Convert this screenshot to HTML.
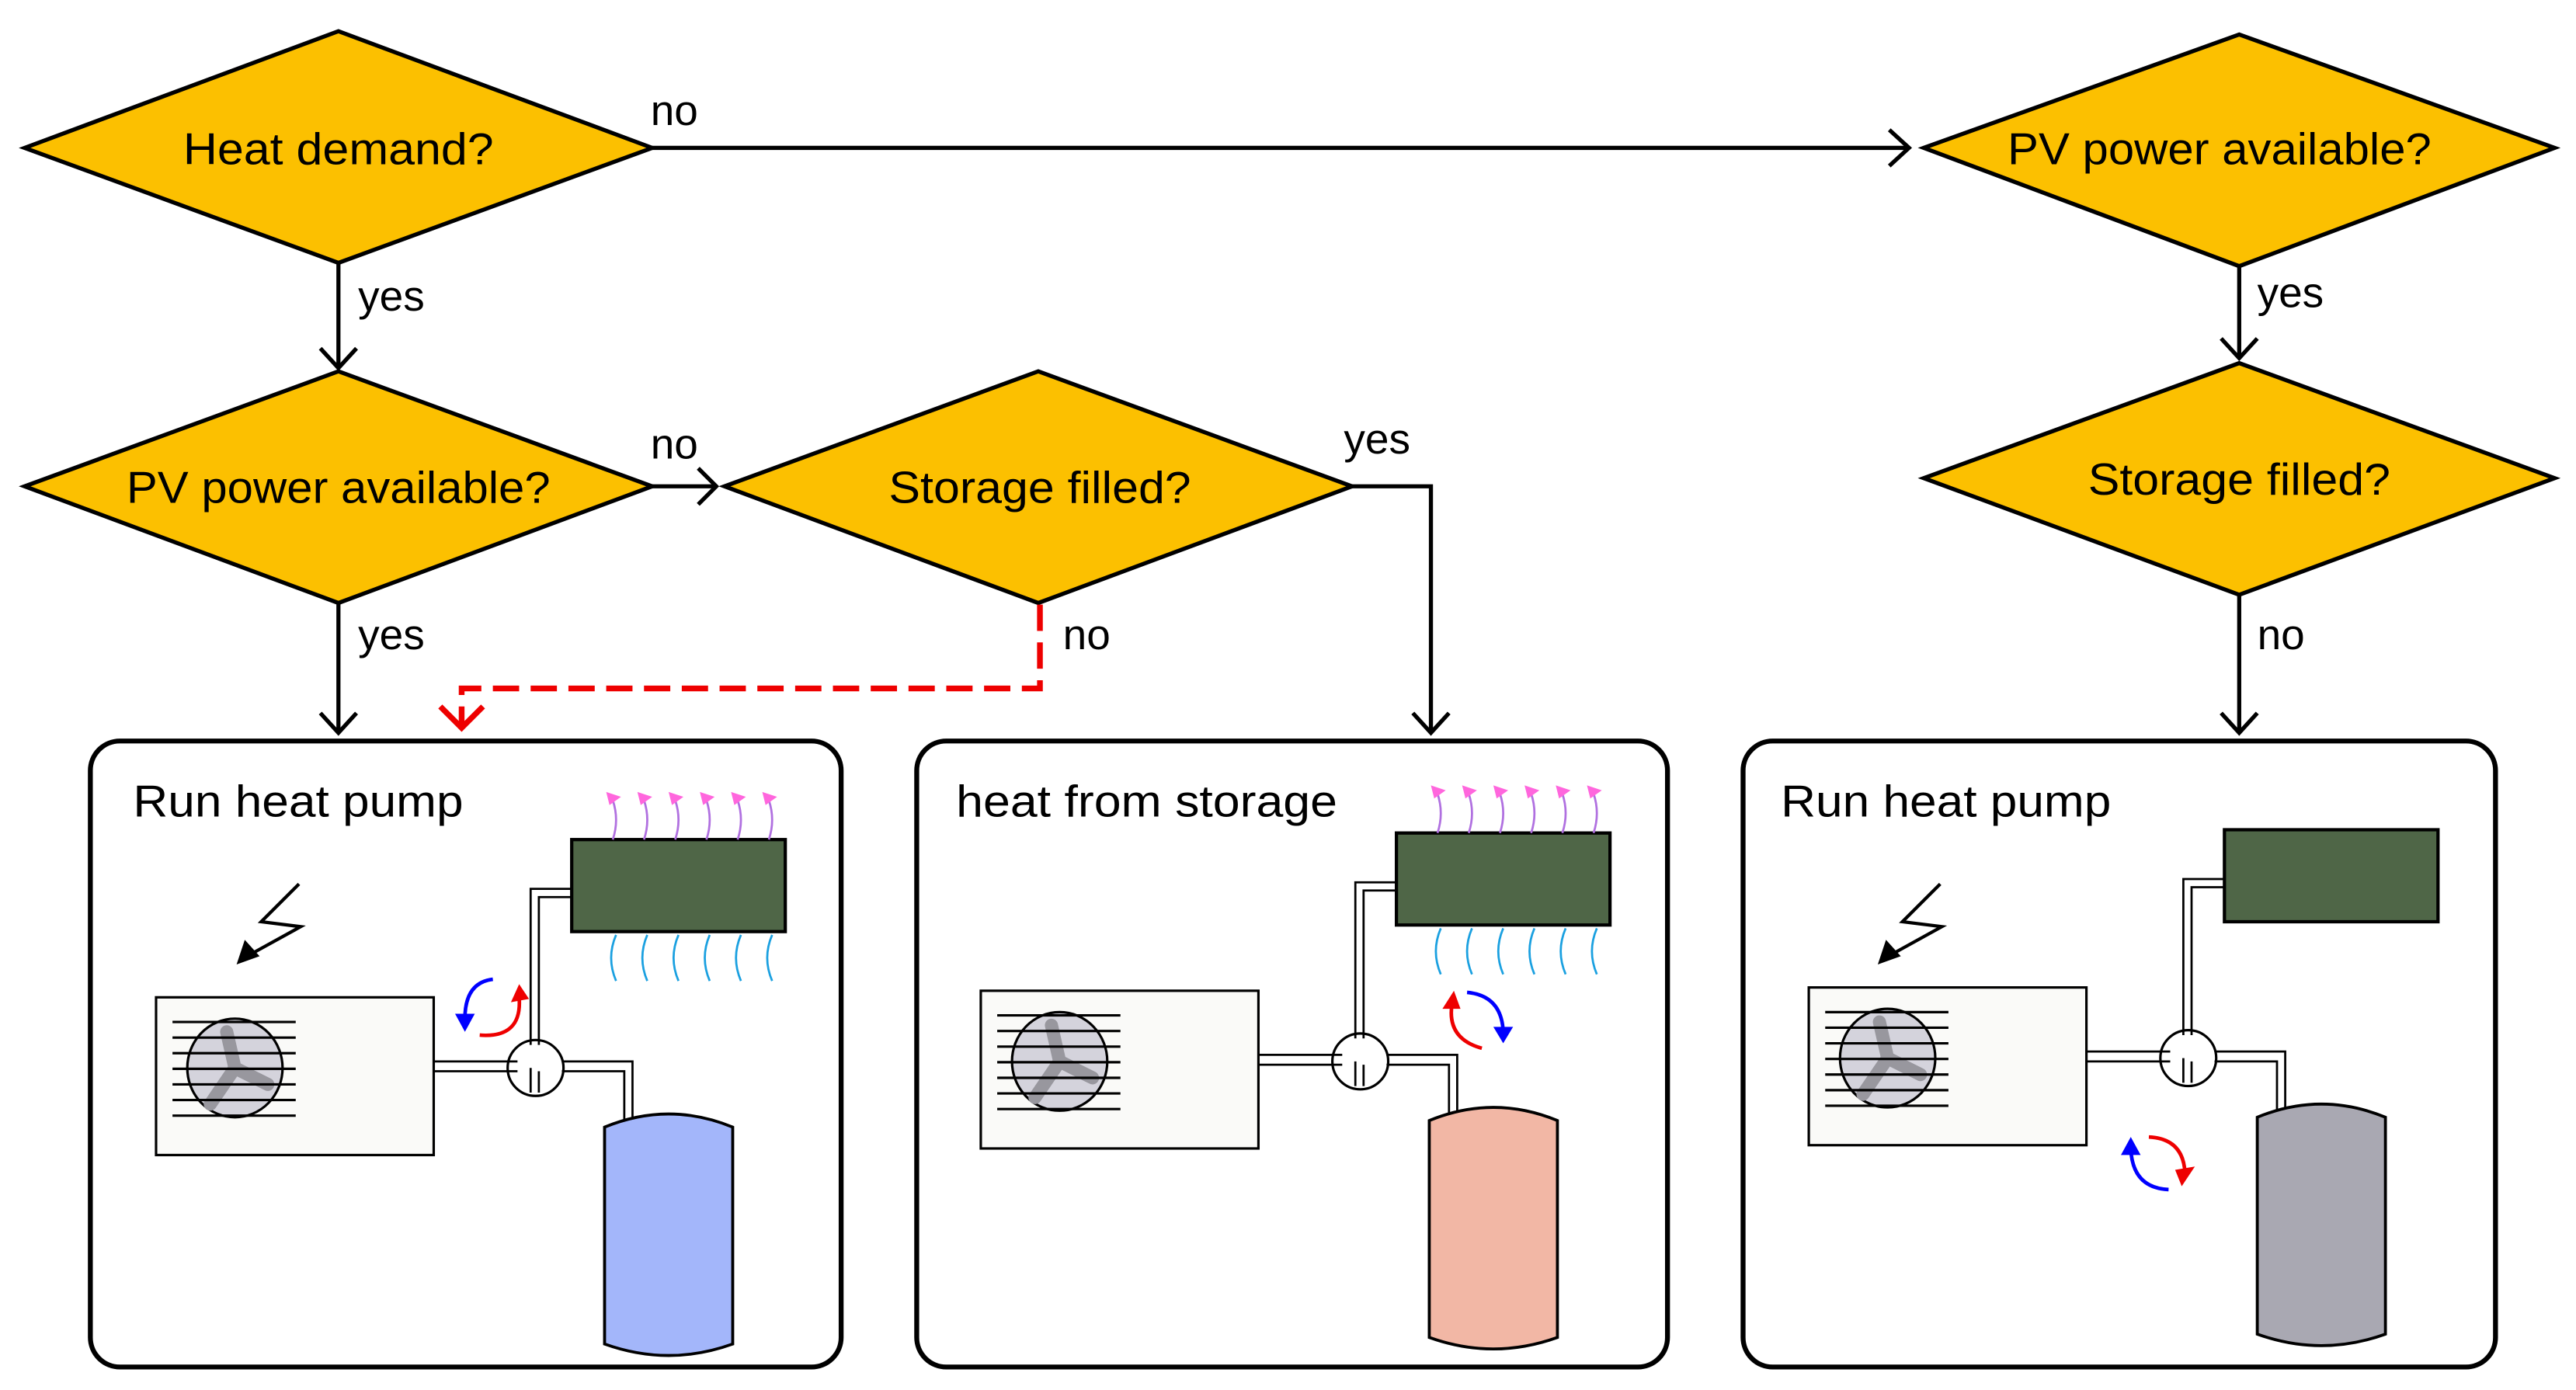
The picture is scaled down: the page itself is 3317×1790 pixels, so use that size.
<!DOCTYPE html>
<html><head><meta charset="utf-8"><style>
html,body{margin:0;padding:0;background:#fff;width:3317px;height:1790px;overflow:hidden}
svg{display:block}
text{font-family:"Liberation Sans",sans-serif;fill:#000}
</style></head><body>
<svg width="3317" height="1790" viewBox="0 0 1568 846" preserveAspectRatio="none" xmlns="http://www.w3.org/2000/svg">
<defs>
<g id="unit">
  <rect x="95" y="607" width="169" height="96" fill="#fafaf8" stroke="#000" stroke-width="1.5"/>
  <ellipse cx="143" cy="650" rx="29" ry="30" fill="#d4d3dc" stroke="#000" stroke-width="1.5"/>
  <path d="M143 650 L138 628 M143 650 L163 660 M143 650 L128 672" stroke="#98979e" stroke-width="8" stroke-linecap="round"/>
  <g stroke="#000" stroke-width="1.5">
    <line x1="105" y1="622" x2="180" y2="622"/><line x1="105" y1="631.5" x2="180" y2="631.5"/>
    <line x1="105" y1="641" x2="180" y2="641"/><line x1="105" y1="650.5" x2="180" y2="650.5"/>
    <line x1="105" y1="660" x2="180" y2="660"/><line x1="105" y1="669.5" x2="180" y2="669.5"/>
    <line x1="105" y1="679" x2="180" y2="679"/>
  </g>
  <g fill="none" stroke="#000" stroke-width="1.3">
    <path d="M264 646 H315 M264 652 H315"/>
    <path d="M323 636 V541 H348 M328 636 V546 H348"/>
    <path d="M342 646 H385 V681 M342 652 H380 V684"/>
    <path d="M323 650 V665 M328 652 V665"/>
  </g>
  <circle cx="326" cy="650" r="17" fill="none" stroke="#000" stroke-width="1.5"/>
  <rect x="348" y="511" width="130" height="56" fill="#4f6647" stroke="#000" stroke-width="2"/>
</g>
<g id="tank">
  <path d="M368 686 Q407 670 446 686 L446 818 Q407 832 368 818 Z" stroke="#000" stroke-width="1.8"/>
</g>
<g id="heat">
  <g fill="none" stroke="#b070e0" stroke-width="1.3">
    <path d="M373 511 q4 -12 0 -24"/><path d="M392 511 q4 -12 0 -24"/><path d="M411 511 q4 -12 0 -24"/>
    <path d="M430 511 q4 -12 0 -24"/><path d="M449 511 q4 -12 0 -24"/><path d="M468 511 q4 -12 0 -24"/>
  </g>
  <g fill="#ff66dd">
    <path d="M369 482 l9 3 l-7 5z"/><path d="M388 482 l9 3 l-7 5z"/><path d="M407 482 l9 3 l-7 5z"/>
    <path d="M426 482 l9 3 l-7 5z"/><path d="M445 482 l9 3 l-7 5z"/><path d="M464 482 l9 3 l-7 5z"/>
  </g>
  <g fill="none" stroke="#1aa0e0" stroke-width="1.3">
    <path d="M375 569 q-6 14 0 28"/><path d="M394 569 q-6 14 0 28"/><path d="M413 569 q-6 14 0 28"/>
    <path d="M432 569 q-6 14 0 28"/><path d="M451 569 q-6 14 0 28"/><path d="M470 569 q-6 14 0 28"/>
  </g>
</g>
<g id="bolt">
  <path d="M182 538 L159 561 L183 564 L154 580" fill="none" stroke="#000" stroke-width="2"/>
  <path d="M144 587 L149 572 L158 582 Z" fill="#000"/>
</g>
</defs>

<g stroke="#000" stroke-width="2.5" fill="#fcc000">
  <polygon points="15,90 206,19 397,90 206,160"/>
  <polygon points="15,296 206,226 397,296 206,367"/>
  <polygon points="441,296 632,226 823,296 632,367"/>
  <polygon points="1171,90 1363,21 1555,90 1363,162"/>
  <polygon points="1171,291 1363,221 1555,291 1363,362"/>
</g>
<g font-size="27" text-anchor="middle">
  <text x="206" y="100" textLength="189" lengthAdjust="spacingAndGlyphs">Heat demand?</text>
  <text x="206" y="306" textLength="258" lengthAdjust="spacingAndGlyphs">PV power available?</text>
  <text x="633" y="306" textLength="184" lengthAdjust="spacingAndGlyphs">Storage filled?</text>
  <text x="1351" y="100" textLength="258" lengthAdjust="spacingAndGlyphs">PV power available?</text>
  <text x="1363" y="301" textLength="184" lengthAdjust="spacingAndGlyphs">Storage filled?</text>
</g>

<g stroke="#000" stroke-width="2.5" fill="none">
  <path d="M397 90 H1162"/><path d="M1150 79 L1162 90 L1150 101"/>
  <path d="M206 160 V224"/><path d="M195 212 L206 224 L217 212"/>
  <path d="M397 296 H436"/><path d="M425 285 L436 296 L425 307"/>
  <path d="M206 367 V446"/><path d="M195 434 L206 446 L217 434"/>
  <path d="M823 296 H871 V446"/><path d="M860 434 L871 446 L882 434"/>
  <path d="M1363 162 V218"/><path d="M1352 206 L1363 218 L1374 206"/>
  <path d="M1363 362 V446"/><path d="M1352 434 L1363 446 L1374 434"/>
</g>
<path d="M633 368 V419 H281 V443" stroke="#e00" stroke-width="3.5" fill="none" stroke-dasharray="16,7"/>
<path d="M268 430 L281 443 L294 430" stroke="#e00" stroke-width="3.5" fill="none"/>

<g font-size="26">
  <text x="396" y="76">no</text>
  <text x="218" y="189">yes</text>
  <text x="396" y="279">no</text>
  <text x="218" y="395">yes</text>
  <text x="818" y="276">yes</text>
  <text x="647" y="395">no</text>
  <text x="1374" y="187">yes</text>
  <text x="1374" y="395">no</text>
</g>

<g fill="none" stroke="#000" stroke-width="3">
  <rect x="55" y="451" width="457" height="381" rx="18"/>
  <rect x="558" y="451" width="457" height="381" rx="18"/>
  <rect x="1061" y="451" width="458" height="381" rx="18"/>
</g>
<g font-size="27">
  <text x="81" y="497" textLength="201" lengthAdjust="spacingAndGlyphs">Run heat pump</text>
  <text x="582" y="497" textLength="232" lengthAdjust="spacingAndGlyphs">heat from storage</text>
  <text x="1084" y="497" textLength="201" lengthAdjust="spacingAndGlyphs">Run heat pump</text>
</g>

<g>
  <use href="#unit"/><use href="#heat"/><use href="#bolt"/>
  <use href="#tank" fill="#a3b6fa"/>
  <path d="M300 596 Q283 598 283 620" fill="none" stroke="#00f" stroke-width="2.2"/>
  <path d="M277 617 L289 617 L283 628 Z" fill="#00f"/>
  <path d="M292 630 Q318 632 316 607" fill="none" stroke="#e00" stroke-width="2.2"/>
  <path d="M311 610 L322 608 L316 599 Z" fill="#e00"/>
</g>
<g transform="translate(502,-4)">
  <use href="#unit"/><use href="#heat"/>
  <use href="#tank" fill="#f2b7a5"/>
  <path d="M391 608 Q412 610 413 632" fill="none" stroke="#00f" stroke-width="2.2"/>
  <path d="M407 629 L419 629 L413 639 Z" fill="#00f"/>
  <path d="M400 642 Q378 636 382 614" fill="none" stroke="#e00" stroke-width="2.2"/>
  <path d="M376 618 L387 618 L383 607 Z" fill="#e00"/>
</g>
<use href="#bolt" transform="translate(999,0)"/>
<g transform="translate(1006,-6)">
  <use href="#unit"/>
  <use href="#tank" fill="#a9a8b2"/>
  <path d="M302 698 Q323 699 324 720" fill="none" stroke="#e00" stroke-width="2.2"/>
  <path d="M318 718 L330 716 L322 728 Z" fill="#e00"/>
  <path d="M314 730 Q292 729 291 705" fill="none" stroke="#00f" stroke-width="2.2"/>
  <path d="M285 709 L297 709 L291 698 Z" fill="#00f"/>
</g>
</svg>
</body></html>
